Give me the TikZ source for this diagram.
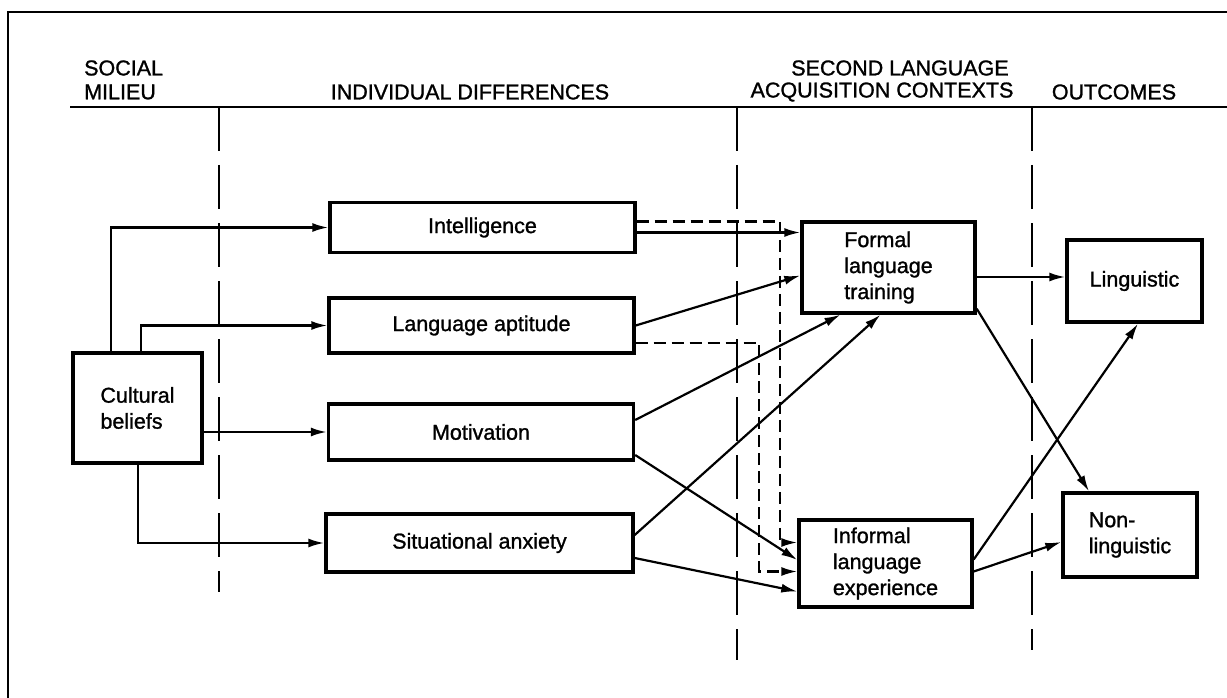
\documentclass[tikz,border=0pt]{standalone}
\usepackage{fontspec}
\setmainfont{Liberation Sans}
\newfontfamily\diagfont{Liberation Sans}[FakeBold=1.2]
\usetikzlibrary{arrows.meta}
\begin{document}
\begin{tikzpicture}[x=1pt,y=-1pt,
  box/.style={draw, line width=3.4pt, inner sep=0pt, font=\diagfont\fontsize{21.5}{26}\selectfont},
  arr/.style={line width=2.2pt, -{Latex[length=16pt,width=9pt]}},
  dasharr/.style={arr, dash pattern=on 12pt off 6pt},
  divider/.style={line width=2pt, dash pattern=on 44pt off 14pt},
  rule/.style={line width=2.6pt},
  head/.style={font=\diagfont\fontsize{21.5}{24}\selectfont, inner sep=0pt}]
\useasboundingbox (0,0) rectangle (1227,698);

% frame and column headings
\draw[rule] (8,698) -- (8,12) -- (1227,12);
\draw[rule] (70,107) -- (1227,107);
\node[head, anchor=west] (soc1) at (84,68) {SOCIAL};
\node[head, anchor=west] (soc2) at (84,92) {MILIEU};
\node[head] (ind) at (470,92) {INDIVIDUAL DIFFERENCES};
\node[head] (sla1) at (900,68) {SECOND LANGUAGE};
\node[head] (sla2) at (882,92) {ACQUISITION CONTEXTS};
\node[head] (out) at (1114,92) {OUTCOMES};

% column dividers
\draw[divider] (219,107) -- (219,592);
\draw[divider] (737,107) -- (737,660);
\draw[divider] (1032,107) -- (1032,650);

% boxes
\node[box, minimum width=129, minimum height=110, align=left] (cult) at (137.5,408) {Cultural\\beliefs};
\node[box, minimum width=305, minimum height=50] (intel) at (482.5,227.5) {Intelligence};
\node[box, minimum width=305, minimum height=55] (apt) at (481.5,325.5) {Language aptitude};
\node[box, minimum width=305, minimum height=56] (motiv) at (481,432) {Motivation};
\node[box, minimum width=307, minimum height=58] (anx) at (479.5,543) {Situational anxiety};
\node[box, minimum width=173, minimum height=91, align=left] (formal) at (888.5,267.5) {Formal\\language\\training};
\node[box, minimum width=173, minimum height=87, align=left] (informal) at (885.5,563.5) {Informal\\language\\experience};
\node[box, minimum width=135, minimum height=82] (ling) at (1134.5,281) {Linguistic};
\node[box, minimum width=134, minimum height=84, align=left] (nonling) at (1130,535) {Non-\\linguistic};

% social milieu to individual differences
\draw[arr] ([xshift=40]cult.north west) |- (intel.west);
\draw[arr] ([xshift=70]cult.north west) |- (apt.west);
\draw[arr] (cult.east |- motiv.west) -- (motiv.west);
\draw[arr] ([xshift=67]cult.south west) |- (anx.west);

% individual differences to acquisition contexts
\draw[arr] ([yshift=-5]intel.east) -- ([yshift=-5]intel.east -| formal.west);
\draw[dasharr] ([yshift=6]intel.east) -| ([xshift=-17,yshift=21]informal.west) -- ([yshift=21]informal.west);
\draw[arr] (apt.east) -- ([yshift=-8]formal.west);
\draw[dasharr] ([yshift=-17.5]apt.east) -| ([xshift=-38,yshift=-8]informal.west) -- ([yshift=-8]informal.west);
\draw[arr] ([yshift=12]motiv.east) -- ([xshift=-48]formal.south);
\draw[arr] ([yshift=-23]motiv.east) -- ([yshift=3.5]informal.west);
\draw[arr] ([yshift=8]anx.east) -- ([xshift=-8]formal.south);
\draw[arr] ([yshift=-15]anx.east) -- ([yshift=-28]informal.west);

% acquisition contexts to outcomes
\draw[arr] ([yshift=4]ling.west -| formal.east) -- ([yshift=4]ling.west);
\draw[arr] ([yshift=6]formal.south east) -- ([xshift=-41]nonling.north);
\draw[arr] ([yshift=4]informal.east) -- ([xshift=3.5]ling.south);
\draw[arr] ([yshift=-8]informal.east) -- ([yshift=-7]nonling.west);
\end{tikzpicture}
\end{document}
